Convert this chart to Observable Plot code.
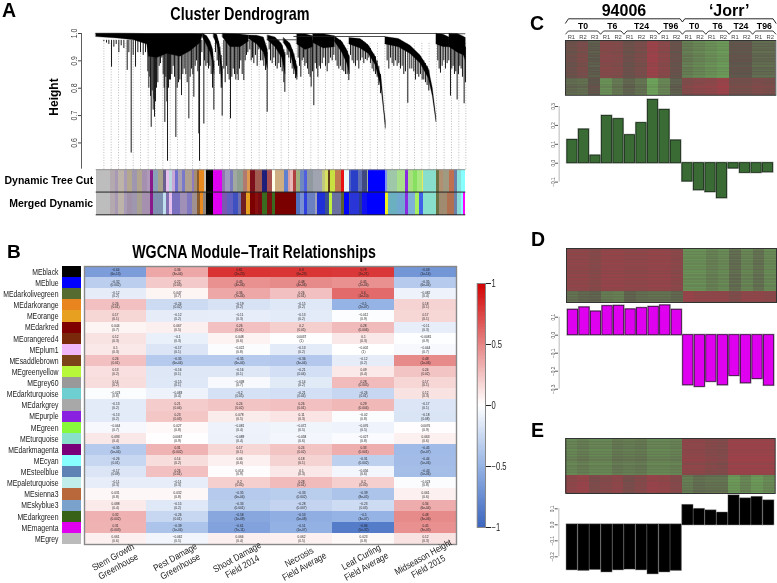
<!DOCTYPE html>
<html><head><meta charset="utf-8">
<script src="https://cdn.jsdelivr.net/npm/d3@7"></script>
<script src="https://cdn.jsdelivr.net/npm/@observablehq/plot@0.6"></script>
<style>
html,body{margin:0;padding:0;background:#fff;overflow:hidden}
#root{position:relative;width:777px;height:583px;overflow:hidden;font-family:"Liberation Sans",Arial,sans-serif;filter:blur(.3px)}
.t{position:absolute;white-space:nowrap;line-height:1;color:#000}
</style></head><body><div id="root"></div>
<script>
// ---------- Panel B data ----------
const modules=["MEblack","MEblue","MEdarkolivegreen","MEdarkorange","MEorange","MEdarkred","MEorangered4","MEplum1","MEsaddlebrown","MEgreenyellow","MEgrey60","MEdarkturquoise","MEdarkgrey","MEpurple","MEgreen","MEturquoise","MEdarkmagenta","MEcyan","MEsteelblue","MEpaleturquoise","MEsienna3","MEskyblue3","MEdarkgreen","MEmagenta","MEgrey"];
const moduleColors=["#000000","#0000ff","#556b2f","#e8851f","#e8a020","#7f0000","#7a2a0a","#f0b8f8","#7a4418","#b8f83a","#999999","#6ecfd0","#a8a8a8","#8a20e0","#88f83a","#88e0cc","#7a007a","#88ffff","#5f82b4","#c0ecea","#b8683a","#7aa2cc","#386218","#e000f0","#bbbbbb"];
const traits=["Stem Growth\nGreenhouse","Pest Damage\nGreenhouse","Shoot Damage\nField 2014","Necrosis\nField Average","Leaf Curling\nField Average","Midseason Height\nField 2015"];
const corrStem=[-0.64,-0.32,-0.12,0.26,0.17,0.044,0.12,0.1,0.26,0.13,0.14,-0.023,-0.13,-0.13,-0.044,0.093,-0.35,-0.26,-0.17,-0.11,0.031,0.088,0.32,0.31,0.061];
const pStem=["6e-13","0.002","0.2","0.01","0.1","0.7","0.3","0.3","0.01","0.2","0.2","0.8","0.2","0.2","0.7","0.4","5e-04","0.01","0.09","0.3","0.8","0.4","0.002","0.003","0.6"];
const corrPest=[0.36,0.22,0.047,-0.24,-0.12,0.067,-0.1,-0.17,-0.35,-0.16,-0.15,-0.083,0.21,0.23,0.027,0.0067,0.31,0.14,0.26,-0.11,0.032,-0.15,-0.26,-0.39,-0.062];
const pPest=["3e-04","0.03","0.7","0.02","0.2","0.5","0.3","0.1","6e-04","0.1","0.1","0.4","0.04","0.03","0.8","0.9","0.002","0.2","0.01","0.3","0.8","0.2","0.01","1e-04","0.5"];
const corrShoot=[0.81,0.45,0.36,-0.19,-0.11,0.26,0.048,-0.022,-0.35,-0.16,-0.038,-0.2,0.24,0.078,-0.081,-0.089,0.17,0.06,0.014,0.2,-0.35,-0.33,-0.58,-0.61,0.066];
const pShoot=["2e-23","4e-06","7e-04","0.2","0.3","0.01","0.6","0.8","6e-04","0.1","0.7","0.05","0.02","0.5","0.4","0.4","0.1","0.6","0.9","0.05","6e-04","0.001","1e-09","7e-11","0.4"];
const corrNecrosis=[0.8,0.48,0.26,-0.15,-0.13,0.2,0.0037,-0.13,-0.36,-0.21,-0.14,-0.21,0.26,0.11,-0.072,-0.058,0.24,0.18,0.1,0.28,-0.33,-0.28,-0.53,-0.51,0.062];
const pNecrosis=["6e-23","4e-06","0.01","0.2","0.2","0.05","1","0.2","3e-04","0.04","0.2","0.04","0.01","0.3","0.5","0.6","0.02","0.1","0.3","0.01","0.002","0.007","5e-08","1e-07","0.5"];
const corrLeaf=[0.79,0.45,0.6,-0.5,-0.012,0.28,0.1,-0.002,-0.12,0.09,0.28,-0.26,0.29,-0.02,-0.076,-0.027,0.33,-0.31,-0.056,0.2,-0.39,-0.23,-0.5,-0.86,0.023];
const pLeaf=["2e-21","2e-06","1e-10","2e-07","0.9","0.006","0.3","1","0.2","0.4","0.005","0.01","0.004","0.8","0.5","0.8","0.001","0.002","0.6","0.05","8e-05","0.03","3e-07","5e-32","0.8"];
const corrHeight=[-0.69,-0.35,-0.082,0.18,0.17,-0.11,-0.0081,-0.044,0.48,0.24,0.17,0.12,-0.17,-0.18,0.0076,0.063,-0.45,-0.44,-0.43,-0.023,0.061,0.34,0.48,0.45,0.12];
const pHeight=["1e-14","6e-04","0.4","0.1","0.1","0.3","0.9","0.7","1e-06","0.02","0.1","0.3","0.1","0.08","0.9","0.6","5e-07","5e-06","5e-06","0.8","0.6","6e-04","3e-06","3e-05","0.3"];
const corrColumns=[corrStem,corrPest,corrShoot,corrNecrosis,corrLeaf,corrHeight];
const pColumns=[pStem,pPest,pShoot,pNecrosis,pLeaf,pHeight];
const corrTicks=[-1,-0.5,0,0.5,1];

// ---------- Panel A data ----------
// dense body of each cluster: gene position, upper height, lower height
const treeClusters=[
[[287,1,.987],[350,1,.982],[400,.999,.975],[440,.998,.96],[445,.998,.915],[470,.998,.91],[500,.998,.925],[540,.998,.915],[570,.998,.935],[600,.997,.965],[607,.997,.993]],
[[607,.999,.985],[620,.99,.955],[630,.97,.93],[638,.94,.89],[642,.88,.85]],
[[640,.999,.985],[650,.995,.96],[658,.96,.92],[666,.87,.8]],
[[667,.999,.985],[690,.998,.95],[720,.996,.95],[745,.993,.97]],
[[745,.993,.98],[770,.992,.96],[790,.985,.93],[802,.94,.87]],
[[802,.993,.975],[825,.985,.95],[845,.96,.91],[855,.92,.85]],
[[850,.984,.965],[870,.962,.93],[880,.93,.88],[891,.877,.84]],
[[890,.997,.96],[915,.997,.94],[938,.99,.95]],
[[938,.997,.965],[970,.997,.945],[1003,.99,.95]],
[[1003,.989,.97],[1025,.97,.93],[1040,.94,.89],[1048,.913,.85]],
[[1047,.984,.96],[1080,.98,.945],[1105,.956,.925],[1125,.915,.885],[1143,.84,.8],[1152,.72,.7],[1156,.68,.651]],
[[1155,.987,.96],[1195,.98,.95],[1230,.955,.925],[1260,.92,.89],[1285,.87,.835],[1297,.80,.77],[1305,.72,.70],[1308,.69,.675]],
[[1308,.999,.96],[1330,.995,.95],[1347,.985,.95]],
[[1347,.999,.95],[1372,.998,.93],[1390,.988,.92],[1396,.984,.9]]
];
// single branches: gene position, lowest height, and where needed the height it hangs from
const treeStems=[[300,.975],[310,.97],[318,.965],[325,.96],[333,.877],[340,.95],[347,.96],[355,.93],[362,.955],[370,.945],[380,.865],[385,.93],[392,.563],[398,.92],[405,.877],[412,.93],[420,.93],[428,.92],[435,.93],
[442,.86],[445,.8],[448,.84],[450,.77],[452,.657],[455,.79],[458,.72],[460,.76],[462,.694],[465,.75],[468,.8],[472,.82],[476,.88],[480,.89],[484,.91],[488,.85],[491,.8],[493,.675],[496,.84],[499,.75],[501,.533],[504,.8],[507,.83],[510,.83],[514,.85],[518,.88],[522,.84],[526,.62],[530,.8],[534,.82],[538,.83],[543,.773],[547,.85],[551,.87],[556,.85],[560,.82],[565,.688],[569,.84],[573,.87],[577,.85],[580,.767],[584,.88],[588,.9],[592,.86],[595,.633],[597,.533],[600,.88],[604,.93],
[610,.669,.99],[612,.9,.99],[616,.88,.985],[620,.89,.98],[624,.87,.97],[628,.88,.96],[632,.85,.95],[636,.8,.93],[640,.72,.9],
[645,.93,.99],[650,.9,.98],[654,.88,.97],[658,.85,.95],[662,.8,.92],[665,.698,.88],
[670,.87],[674,.82],[678,.88],[682,.85],[686,.83],[690,.688],[694,.84],[698,.87],[702,.85],[706,.83],[710,.85],[713,.828],[717,.87],[721,.9],[725,.85],[730,.828],[734,.9],[738,.92],[742,.93],
[748,.94],[752,.9],[756,.91],[760,.89],[765,.92],[770,.88],[775,.94],[780,.9],[785,.9],[790,.88,.97],[795,.865,.95],[800,.712,.93],
[806,.94],[810,.9],[815,.89],[820,.91],[825,.88],[830,.87],[835,.89,.975],[840,.875,.965],[845,.86,.955],[850,.82,.94],[853,.785,.93],
[860,.92,.97],[865,.91,.965],[870,.89,.955],[875,.87,.94],[880,.85,.925],[885,.835,.9],[889,.83,.88],
[893,.91],[897,.88],[901,.84],[905,.9],[909,.91],[913,.88],[917,.89],[921,.87],[925,.85],[929,.84],[932,.804],[936,.86],
[940,.736],[944,.89],[948,.87],[952,.84],[956,.88],[960,.87],[965,.89],[970,.91],[975,.88],[980,.86],[985,.89],[990,.91],[995,.9],[1000,.92],
[1006,.9],[1010,.88],[1015,.87],[1020,.88,.975],[1025,.865,.965],[1030,.86,.955],[1035,.85,.945],[1040,.85,.935],[1045,.828,.92],
[1050,.92],[1055,.9],[1060,.89],[1065,.88],[1070,.9],[1075,.87],[1080,.9],[1085,.91],[1090,.89,.97],[1095,.905,.965],[1100,.9,.96],[1105,.91,.95],[1110,.89,.945],[1115,.87,.93],[1120,.86,.925],[1125,.85,.915],[1130,.84,.9],[1135,.81,.88],[1140,.78,.85],
[1160,.9],[1165,.87],[1170,.91],[1175,.89],[1180,.88],[1185,.9],[1190,.88],[1195,.89],[1200,.87],[1205,.88,.97],[1210,.85,.965],[1215,.86,.96],[1222,.745,.955],[1228,.87,.95],[1234,.87,.945],[1240,.86,.935],[1245,.83,.93],[1250,.85,.925],[1255,.84,.92],[1260,.85,.915],[1265,.83,.905],[1270,.83,.9],[1275,.82,.89],[1280,.81,.88],[1285,.79,.865],
[1312,.9],[1316,.87],[1320,.855],[1325,.88],[1330,.9],[1335,.87],[1340,.89],[1345,.9],
[1350,.771],[1354,.87],[1358,.88],[1362,.85],[1366,.86],[1370,.757],[1374,.85],[1378,.88],[1382,.87],[1386,.84],[1391,.743,.96],[1395,.82,.95]];
const treeJoins=[[287,1350,1],[880,1155,.989],[800,890,.977],[1350,1396,.999]];
const guideGenes=[310,332,354,376,398,420,443,465,487,509,531,554,576,598,620,642,665,687,709,731,753,776,798,820,842,864,887,909,931,953,975,998,1020,1042,1064,1086,1109,1131,1153,1175,1197,1220,1242,1264,1286,1308,1331,1353,1375,1396];
const treeTicks=[.6,.7,.8,.9,1];
// strips: [gene position where the colour ends, colour]
const stripDynamic=[[330,"#bdbdbd"],[345,"#b5a9b0"],[355,"#a89ab5"],[372,"#bdb3a8"],[380,"#a89bb8"],[395,"#b4a78f"],[412,"#9f97b0"],[425,"#b2a58f"],[440,"#a590b0"],[449,"#b09abc"],[458,"#8a1a8a"],[475,"#8aa0b8"],[490,"#a9a28a"],[497,"#6a5f8f"],[507,"#e8c0ee"],[515,"#b8d8e0"],[525,"#c9a8d8"],[535,"#6f70d0"],[545,"#a8a0b0"],[555,"#7a78c8"],[575,"#b0a090"],[582,"#8e7bc0"],[590,"#a58d70"],[598,"#8a5a2a"],[612,"#e98a1f"],[617,"#c9c0b0"],[640,"#000000"],[666,"#e000f0"],[675,"#8f79b0"],[690,"#a09cc0"],[700,"#7a7ac0"],[710,"#a0a8a0"],[730,"#90a090"],[740,"#b07a70"],[750,"#e09a50"],[765,"#7d0f1a"],[785,"#a05a50"],[802,"#1f1f7a"],[815,"#a85050"],[826,"#fffde8"],[852,"#cfae82"],[863,"#5f7fd0"],[870,"#d8a0a0"],[878,"#e8b8b8"],[887,"#b04040"],[900,"#a0b080"],[912,"#6f88c0"],[920,"#4f5fe0"],[940,"#9098a0"],[965,"#a0a4b0"],[975,"#c0c880"],[985,"#d8e060"],[990,"#5a3a1a"],[1005,"#c8e040"],[1022,"#c07a50"],[1033,"#e81010"],[1047,"#e8f8f8"],[1052,"#5060c0"],[1075,"#2a3fc8"],[1085,"#6070b0"],[1100,"#404a80"],[1103,"#a0b0a0"],[1155,"#0000ff"],[1160,"#8090f0"],[1190,"#9ec8a8"],[1215,"#a8e08a"],[1224,"#8a2be2"],[1240,"#a8e080"],[1250,"#88e060"],[1265,"#a8e880"],[1269,"#e8e860"],[1308,"#88e0cc"],[1318,"#6a7040"],[1330,"#b09070"],[1347,"#a09a80"],[1362,"#c07050"],[1372,"#6a80a8"],[1382,"#88e0dc"],[1396,"#88ffff"]];
const stripMerged=[[330,"#bdbdbd"],[345,"#b5a9b0"],[355,"#a89ab5"],[372,"#bdb3a8"],[380,"#a89bb8"],[395,"#a090a8"],[412,"#9f97b0"],[425,"#a8a090"],[449,"#a590b0"],[458,"#8a1a8a"],[488,"#7f8fb0"],[497,"#c0e0f0"],[507,"#8070b0"],[516,"#e8c0ee"],[540,"#7a70c0"],[560,"#a090b8"],[575,"#8078c0"],[590,"#a09090"],[600,"#8a5a2a"],[610,"#e88a1f"],[617,"#908880"],[640,"#000000"],[666,"#e000f0"],[680,"#7a5ab0"],[700,"#5f60c0"],[715,"#3f50c0"],[722,"#6f70b0"],[737,"#702020"],[750,"#e8a020"],[765,"#7d0000"],[775,"#8a1010"],[785,"#7a0a10"],[802,"#3b6b1f"],[816,"#7a1010"],[826,"#3b6b1f"],[888,"#7a0000"],[900,"#5070c0"],[912,"#7a90d0"],[920,"#3040e0"],[945,"#6a80c0"],[952,"#a0a0b8"],[975,"#2030d8"],[988,"#3a5090"],[995,"#c0f040"],[1023,"#6a70a0"],[1033,"#5a6030"],[1047,"#0000ff"],[1050,"#404a90"],[1078,"#2a35d8"],[1085,"#2a3a90"],[1100,"#1010f0"],[1155,"#0000ff"],[1163,"#f0f020"],[1190,"#6ab0c0"],[1215,"#70a8d0"],[1224,"#8a2be2"],[1245,"#80b0d8"],[1258,"#a8f060"],[1269,"#4060e8"],[1308,"#88e0cc"],[1318,"#6a7040"],[1340,"#a08a70"],[1362,"#b07050"],[1372,"#6a80a8"],[1382,"#88d8d8"],[1390,"#88ffff"],[1396,"#ff00ff"]];

// ---------- Panels C, D, E data ----------
const samples=["s1","s2","s3","s4","s5","s6","s7","s8","s9","s10","s11","s12","s13","s14","s15","s16","s17","s18"];
const replicates=["R1","R2","R3","R1","R2","R1","R2","R3","R1","R2","R1","R2","R1","R2","R1","R2","R1","R2"];
const timeGroups=[["T0",0,3],["T6",3,5],["T24",5,8],["T96",8,10],["T0",10,12],["T6",12,14],["T24",14,16],["T96",16,18]];
const genotypeGroups=[["94006",0,10],["‘Jorr’",10,18]];
const eigenC=[.123,.178,.04,.25,.233,.148,.212,.335,.282,.12,-.097,-.143,-.153,-.185,-.028,-.051,-.051,-.048];
const eigenD=[.141,.154,.131,.161,.163,.143,.15,.157,.165,.141,-.278,-.287,-.259,-.278,-.226,-.267,-.243,-.28];
const eigenE=[-.281,-.285,-.279,-.294,-.281,-.277,-.281,-.306,-.294,-.285,.121,.096,.0875,.073,.181,.1625,.171,.15];
const heatTopC=[.2,.35,-.05,.5,.45,.2,.35,.75,.55,.15,-.4,-.5,-.6,-.7,.05,.05,-.2,-.2];
const heatLowC=[-.2,-.25,.05,-.6,-.35,-.15,-.3,-.8,-.5,-.1,.45,.55,.6,.75,.3,.3,.4,.35];
const heatTopD=[.6,.6,.5,.65,.65,.6,.6,.65,.65,.55,-.6,-.6,-.45,-.55,-.25,-.5,-.3,-.55];
const heatLowD=[-.3,-.2,-.15,-.4,-.45,-.15,-.25,-.3,-.3,-.2,.7,.6,.6,.6,.4,.6,.6,.55];
const heatTopE=[-.5,-.4,-.5,-.5,-.35,-.4,-.35,-.5,-.5,-.45,.6,.6,.5,.45,.75,.75,.75,.75];
const heatLowE=[.6,.7,.4,.5,.6,.35,.5,.7,.65,.5,-.4,-.25,-.3,-.3,-.7,-.5,-.7,-.55];
// horizontal banding of the gene rows
const rowBands=[.03,-.08,.07,-.03,.09,-.07,.01,.08,-.09,.04,-.03,.07,-.08,.05,-.01,.1,-.05,.03,-.1,.07,.02,-.07,.08,-.04,.05,-.09,.03,.07,-.05,.01,-.07,.06,-.02,.09,-.06,.04,-.03,.07,-.08,.03];

// ---------- helpers ----------
const root=document.getElementById("root");
const SANS='"Liberation Sans",Arial,sans-serif';
const minus=s=>String(s).replace("-","\u2212");
function place(svg,top,narrow){
  svg.style.cssText+=";position:absolute;left:0;top:"+top+"px;background:transparent;max-width:none;overflow:visible";
  if(narrow) svg.querySelectorAll("text").forEach(el=>{
    const t=el.getAttribute("transform");
    if(t) el.setAttribute("transform",t+" scale("+narrow+",1)");
    else{const x=+el.getAttribute("x")||0;el.setAttribute("transform","translate("+x+",0) scale("+narrow+",1) translate("+(-x)+",0)");}
  });
  root.append(svg);
}
function label(text,x,y,size,opts={}){
  const d=document.createElement("div");
  d.className="t";
  d.textContent=text;
  d.style.left=x+"px";d.style.top=y+"px";d.style.fontSize=size+"px";
  d.style.fontWeight=opts.weight||"bold";
  d.style.transform=(opts.center?"translate(-50%,-50%) ":"translateY(-50%) ")+(opts.rotate?"rotate("+opts.rotate+"deg) ":"")+(opts.narrow?"scaleX("+opts.narrow+")":"");
  root.append(d);
}
const W=777;

// ---------- Panel A ----------
const xGene={domain:[287,1396],range:[95.7,465.3]};
const treeRows=treeClusters.flatMap((c,i)=>c.map(r=>({c:i,x:r[0],top:r[1],bottom:r[2]})));
place(Plot.plot({width:W,height:169,marginLeft:81,marginRight:311.7,marginTop:0,marginBottom:0,
  x:{...xGene,axis:null},y:{domain:[.504,1],range:[168.7,33],axis:null},
  style:{fontFamily:SANS},
  marks:[
    Plot.ruleX(guideGenes,{x:d=>d,y1:.504,y2:.97,stroke:"#aaa",strokeWidth:.8,strokeDasharray:"1,1.6"}),
    Plot.ruleX(treeStems,{x:d=>d[0],y1:d=>d[2]??.975,y2:d=>d[1],stroke:"#1a1a1a",strokeWidth:1}),
    Plot.areaY(treeRows,{x:"x",y1:"top",y2:"bottom",z:"c",fill:"#000",stroke:"#111",strokeWidth:.3,curve:"linear"}),
    Plot.ruleY(treeJoins,{x1:d=>d[0],x2:d=>d[1],y:d=>d[2],stroke:"#222",strokeWidth:.8}),
    Plot.ruleX([287],{x:d=>d,dx:-14.7,y1:.504,y2:1,stroke:"#333",strokeWidth:.8}),
    Plot.axisY({ticks:treeTicks,tickFormat:".1f",tickRotate:-90,tickSize:3,tickPadding:2,fontSize:8.5,textAnchor:"middle",anchor:"left",label:null,color:"#444"})
  ]}),0,.82);
const stripRows=[["Dynamic Tree Cut",stripDynamic],["Merged Dynamic",stripMerged]].flatMap(([name,s])=>s.map((r,i)=>({strip:name,x1:i?s[i-1][0]:287,x2:r[0],color:r[1]})));
place(Plot.plot({width:W,height:45.5,marginLeft:95.7,marginRight:311.7,marginTop:0,marginBottom:0,
  x:{...xGene,axis:null},y:{domain:["Dynamic Tree Cut","Merged Dynamic"],padding:0,round:false,label:null},
  style:{fontFamily:SANS},
  marks:[
    Plot.barX(stripRows,{x1:"x1",x2:"x2",y:"strip",fill:d=>d.color,shapeRendering:"crispEdges"}),
    Plot.ruleY(["Dynamic Tree Cut"],{y:d=>d,dy:-11.2,stroke:"#999",strokeWidth:1}),
    Plot.ruleY(["Dynamic Tree Cut"],{y:d=>d,dy:11.2,stroke:"#222",strokeWidth:1}),
    Plot.ruleY(["Merged Dynamic"],{y:d=>d,dy:11.2,stroke:"#222",strokeWidth:1}),
    Plot.axisY({tickSize:0,tickPadding:3,fontSize:10.5,fontWeight:"bold",label:null,color:"#000"})
  ]}),169);
label("A",2,11,19.5);
label("Cluster Dendrogram",240,15,17.8,{center:true,narrow:.81});
label("Height",54,97,12,{center:true,rotate:-90});

// ---------- Panel B ----------
const corrRows=modules.flatMap((m,i)=>traits.map((t,j)=>({module:m,trait:t,r:corrColumns[j][i],p:pColumns[j][i]})));
const corrColor={type:"linear",domain:corrTicks,range:["#3c66bf","#95b3e4","#ffffff","#e68585","#d20000"]};
place(Plot.plot({width:W,height:317,marginLeft:84,marginRight:321,marginTop:0,marginBottom:39,
  x:{domain:traits,padding:0,round:false,axis:null},y:{domain:modules,padding:0,round:false,axis:null},
  color:corrColor,style:{fontFamily:SANS},
  marks:[
    Plot.cell(corrRows,{x:"trait",y:"module",fill:"r",shapeRendering:"crispEdges"}),
    Plot.text(corrRows,{x:"trait",y:"module",text:d=>minus(d.r)+"\n("+d.p+")",fontSize:3.7,lineHeight:1,fill:"#222"}),
    Plot.frame({stroke:"#888",strokeWidth:1.4}),
    Plot.text(traits,{x:d=>d,text:d=>d,frameAnchor:"bottom",lineAnchor:"middle",dy:17,rotate:-29,lineHeight:1.15,fontSize:9.3,fill:"#222"})
  ]}),266,.86);
place(Plot.plot({width:W,height:278,marginLeft:62,marginRight:696,marginTop:0,marginBottom:0,
  x:{domain:["swatch"],padding:0,round:false,axis:null},y:{domain:modules,padding:0,round:false,label:null},
  style:{fontFamily:SANS},
  marks:[
    Plot.cell(modules,{x:()=>"swatch",y:d=>d,fill:(d,i)=>moduleColors[i],shapeRendering:"crispEdges"}),
    Plot.axisY({tickSize:0,tickPadding:4,fontSize:8.8,label:null,color:"#222"})
  ]}),266,.78);
place(Plot.plot({width:W,height:264,marginLeft:476.7,marginRight:292,marginTop:10,marginBottom:10,
  y:{domain:[-1,1],label:null},x:{axis:null},color:corrColor,style:{fontFamily:SANS},
  marks:[
    Plot.rect(d3.range(-1,1,.02),{y1:d=>d,y2:d=>d+.02,fill:d=>d+.01,shapeRendering:"crispEdges"}),
    Plot.frame({stroke:"#888",strokeWidth:1}),
    Plot.axisY({anchor:"right",ticks:corrTicks,tickFormat:minus,tickSize:5,tickPadding:1,fontSize:10,label:null,color:"#222"})
  ]}),273,.76);
label("B",7,251,19);
label("WGCNA Module\u2013Trait Relationships",254,251.5,18,{center:true,narrow:.79});

// ---------- Panels C, D, E ----------
const heatColor={type:"linear",domain:[-1,0,1],range:["#6fae5c","#5c554b","#ac3c48"]};
function heat(top,bottom,lowRows,topValues,lowValues,left,right){
  const nRows=Math.round((bottom-top)/1.4);
  const rows=d3.range(nRows);
  const cells=rows.flatMap(r=>samples.map((s,i)=>{
    const isLow=r>=nRows-lowRows;
    return {s,r,v:(isLow?lowValues:topValues)[i]+rowBands[r%rowBands.length]};
  }));
  place(Plot.plot({width:W,height:bottom-top,marginLeft:left,marginRight:W-right,marginTop:0,marginBottom:0,
    x:{domain:samples,padding:0,round:false,axis:null},y:{domain:rows,padding:0,round:false,axis:null},color:heatColor,
    marks:[Plot.cell(cells,{x:"s",y:"r",fill:"v",shapeRendering:"crispEdges"}),Plot.frame({stroke:"#333",strokeWidth:1})]}),top);
}
function bars(values,fill,stroke,zeroY,pxPerTenth,ticks,left,right,axisX,barTop,barHeight){
  const rows=samples.map((s,i)=>({s,v:values[i]}));
  const zero=zeroY-barTop;
  const up=zero/pxPerTenth*.1, down=(barHeight-zero)/pxPerTenth*.1;
  const x0=left+(right-left)/36;
  place(Plot.plot({width:W,height:barHeight,marginLeft:axisX,marginRight:W-right,marginTop:0,marginBottom:0,
    x:{domain:samples,range:[left,right],padding:.12,round:false,axis:null},
    y:{domain:[-down,up],range:[barHeight,0],label:null},style:{fontFamily:SANS},
    marks:[
      Plot.barY(rows,{x:"s",y:"v",fill:"none",stroke:"#aaa",strokeWidth:2}),
      Plot.barY(rows,{x:"s",y:"v",fill,stroke,strokeWidth:.8}),
      Plot.ruleX([samples[0]],{x:d=>d,dx:axisX-x0,y1:d3.min(ticks),y2:d3.max(ticks),stroke:"#999",strokeWidth:.7}),
      Plot.axisY({ticks,tickFormat:d=>minus(d3.format(".1f")(d)),tickRotate:-90,tickSize:3,tickPadding:1,fontSize:4.8,textAnchor:"middle",label:null,color:"#555"})
    ]}),barTop);
}
// C header: brackets, time points and replicates on a sample-position scale
const mainPts=[[0,22.7],[.25,18.3],[9.8,18.3],[10,21.5],[10.2,18.3],[17.75,18.3],[18,22.7]].map(p=>({k:"m",x:p[0],y:p[1]}));
const subPts=timeGroups.flatMap((g,i)=>[[g[1]+.02,33.5],[g[1]+.25,30.5],[g[2]-.25,30.5],[g[2]-.02,33.5]].map(p=>({k:i,x:p[0],y:p[1]})));
place(Plot.plot({width:W,height:39.5,marginLeft:565,marginRight:1.5,marginTop:0,marginBottom:0,
  x:{domain:[0,18],axis:null},y:{domain:[39.5,0],range:[39.5,0],axis:null},
  style:{fontFamily:SANS},
  marks:[
    Plot.line(mainPts,{x:"x",y:"y",stroke:"#111",strokeWidth:.9}),
    Plot.line(subPts,{x:"x",y:"y",z:"k",stroke:"#111",strokeWidth:.8}),
    Plot.text(genotypeGroups,{x:d=>(d[1]+d[2])/2,y:()=>10,text:d=>d[0],fontSize:16,fontWeight:"bold",fill:"#000"}),
    Plot.text(timeGroups,{x:d=>(d[1]+d[2])/2,y:()=>26.2,text:d=>d[0],fontSize:8.7,fontWeight:"bold",fill:"#000"}),
    Plot.text(replicates,{x:(d,i)=>i+.5,y:()=>36.3,text:d=>d,fontSize:5.8,fill:"#444"})
  ]}),0);
heat(39.5,94.3,12,heatTopC,heatLowC,565,775.3);
bars(eigenC,"#3a6b35","#152a15",162.7,18.9,[.3,.2,.1,0,-.1],565.5,774,558,95,110);
label("C",530,24,19.5);

heat(248.3,302.3,8,heatTopD,heatLowD,566,776);
bars(eigenD,"#e000f0","#3a0a40",334.7,18,[.1,0,-.1,-.2,-.3],566,775,558,305,90);
label("D",531,240,19.5);

heat(437.7,492.7,13,heatTopE,heatLowE,565.3,774.7);
bars(eigenE,"#000000","#000",524.3,16,[.1,0,-.1,-.2],565.3,774.7,557.7,495,85);
label("E",531,431,19.5);
</script></body></html>
